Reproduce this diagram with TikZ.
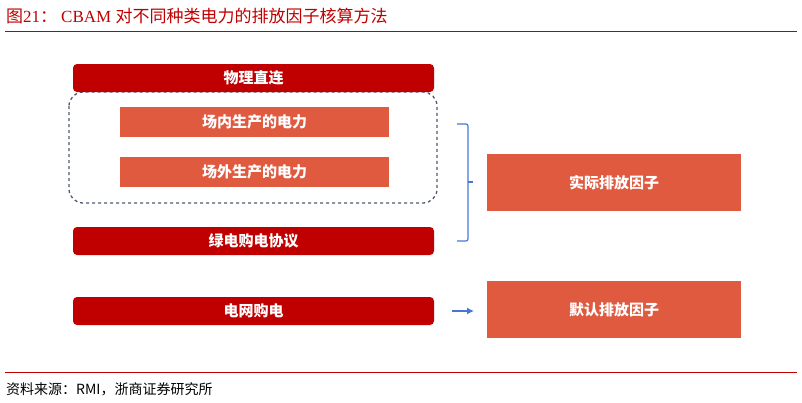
\documentclass[tikz,border=0pt]{standalone}
\usepackage{fontspec}
\setmainfont{Liberation Serif}
\newfontfamily\cjk{Noto Sans CJK SC}
\definecolor{dred}{RGB}{192,0,0}
\definecolor{ored}{RGB}{224,90,64}
\definecolor{dgray}{RGB}{80,90,110}
\definecolor{bblue}{RGB}{70,120,210}
\usetikzlibrary{arrows.meta}
\begin{document}
\begin{tikzpicture}[x=1pt,y=-1pt,
  redbar/.style={fill=dred,rounded corners=4pt,text=white,font=\cjk\bfseries\fontsize{15}{15}\selectfont},
  obox/.style={fill=ored,text=white,font=\cjk\bfseries\fontsize{15}{15}\selectfont},
  conn/.style={bblue,line width=1.2pt}]
\useasboundingbox (0,0) rectangle (802,402);
\node[anchor=west,text=dred,font=\fontsize{17}{17}\selectfont,inner sep=0] (title) at (6,16) {{\cjk 图}21{\cjk ：}\hspace{4pt}CBAM {\cjk 对不同种类电力的排放因子核算方法}};
\draw[dred,line width=0.8pt] (5,31) -- (797,31);
\draw[dgray,dashed,line width=1.3pt,rounded corners=14pt] (69,92) rectangle (437,203);
\path[redbar] (73,64) rectangle node (a) {物理直连} (434,92);
\path[obox] (120,107) rectangle node (b) {场内生产的电力} (389,137);
\path[obox] (120,157) rectangle node (c) {场外生产的电力} (389,187);
\path[redbar] (73,227) rectangle node (d) {绿电购电协议} (434,255);
\path[redbar] (73,297) rectangle node (e) {电网购电} (434,325);
\path[obox] (487,154) rectangle node (f) {实际排放因子} (741,211);
\path[obox] (487,281) rectangle node (g) {默认排放因子} (741,338);
\coordinate (bt) at (457,124);
\coordinate (bb) at (457,241);
\draw[conn,rounded corners=2pt] (bt) -- (468,124) -- (468,241) -- (bb);
\draw[conn] (468,182) -- (473,182);
\coordinate (ar) at (452,311);
\draw[conn,-{Latex[length=7pt,width=7pt]}] (ar) -- (474,311);
\draw[dred,line width=0.8pt] (5,372) -- (797,372);
\node[anchor=west,font=\cjk\fontsize{14}{14}\selectfont,inner sep=0] (src) at (6,389) {资料来源：RMI，浙商证券研究所};
\end{tikzpicture}
\end{document}
